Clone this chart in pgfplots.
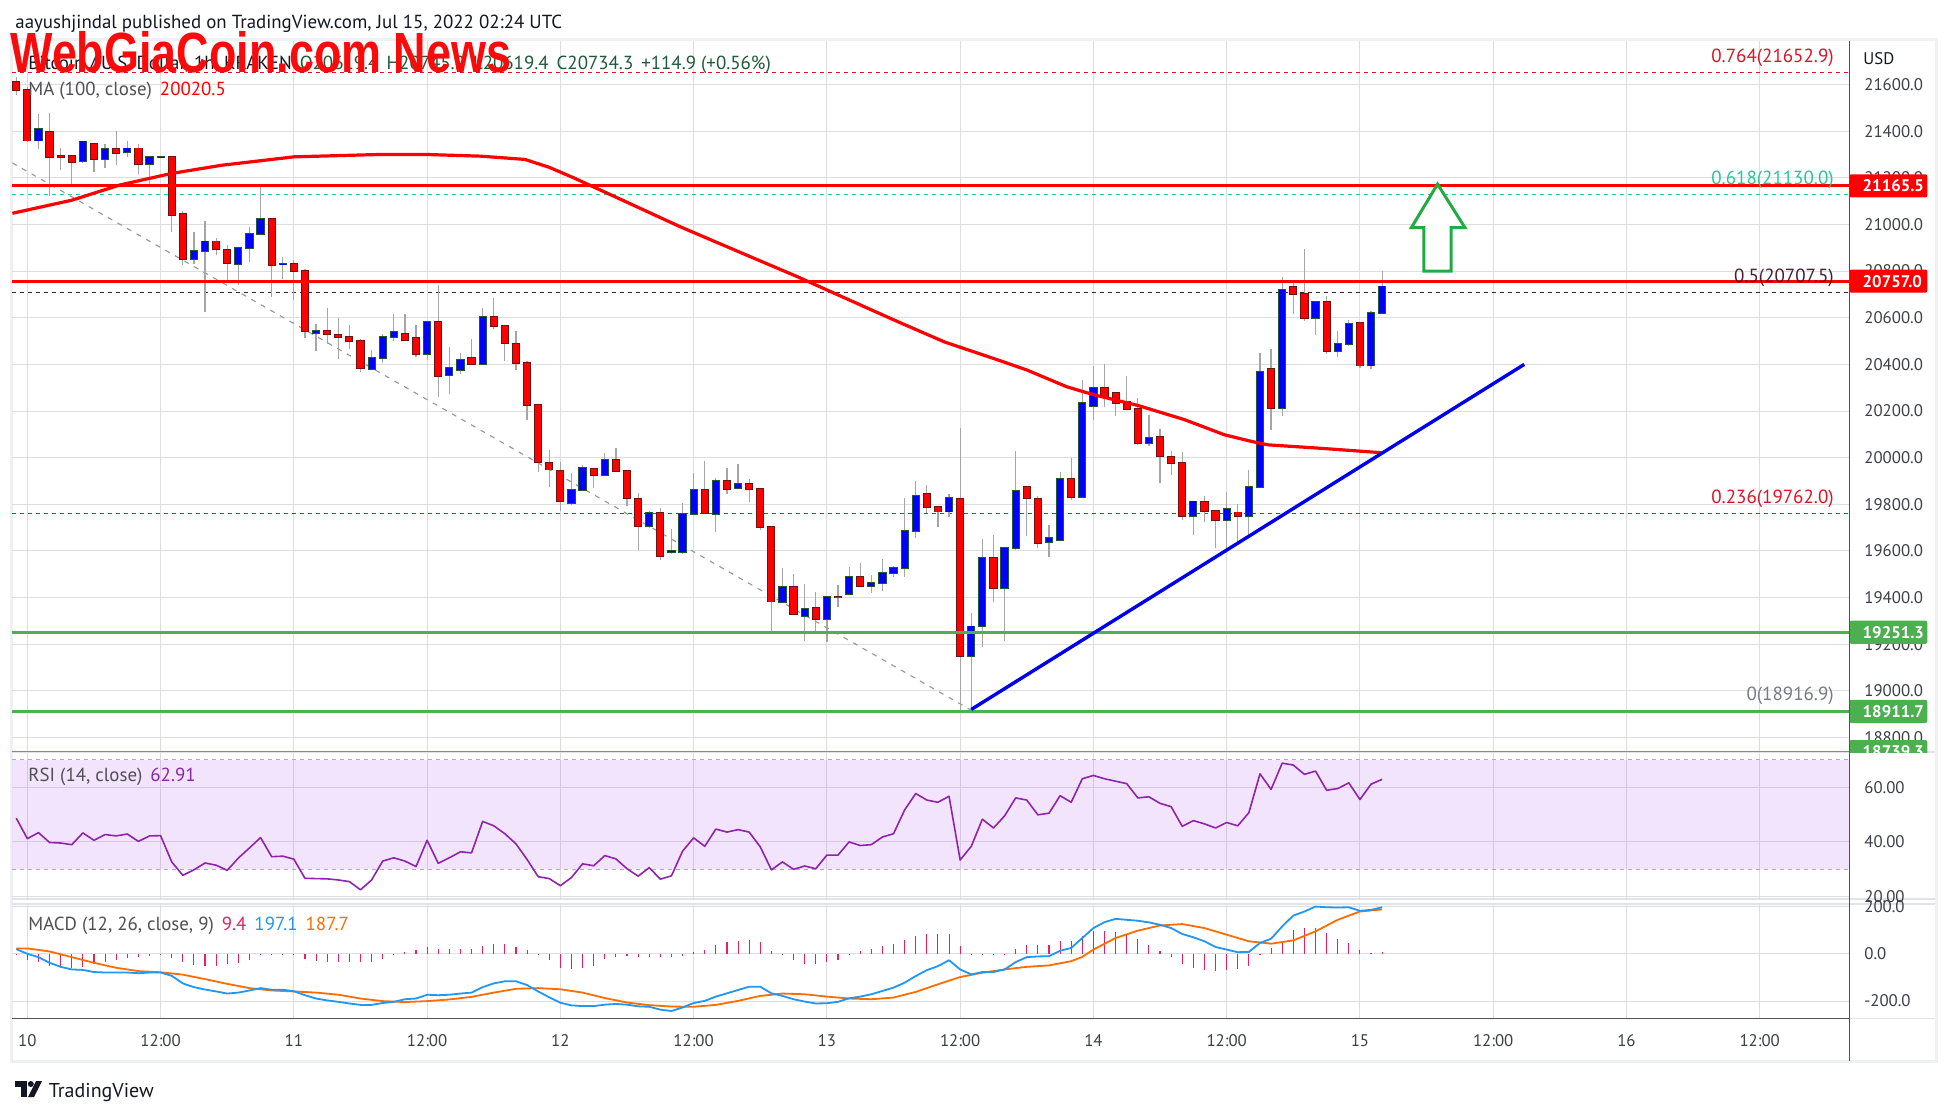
\documentclass[border=0pt]{standalone}
\usepackage{fontspec}
\setmainfont{PT Sans}
\newfontfamily\wmfont{Liberation Sans}
\usepackage{graphicx}
\usepackage{pgfplots}
\usepackage{pgfplotstable}
\pgfplotsset{compat=1.18}

\definecolor{tvgrid}{RGB}{222,222,222}
\definecolor{tvtext}{RGB}{60,63,72}
\definecolor{tvdark}{RGB}{19,23,34}
\definecolor{legray}{RGB}{80,80,84}
\definecolor{upfill}{RGB}{0,0,255}
\definecolor{upedge}{RGB}{28,88,48}
\definecolor{dnfill}{RGB}{255,0,0}
\definecolor{dnedge}{RGB}{110,18,18}
\definecolor{wickc}{RGB}{165,165,165}
\definecolor{marred}{RGB}{255,0,0}
\definecolor{lvlgreen}{RGB}{76,175,80}
\definecolor{fibred}{RGB}{220,20,40}
\definecolor{fibteal}{RGB}{38,198,150}
\definecolor{fibdark}{RGB}{70,30,55}
\definecolor{fibgray}{RGB}{120,123,134}
\definecolor{rsipurple}{RGB}{142,36,170}
\definecolor{bandc}{RGB}{160,40,240}
\definecolor{bandline}{RGB}{175,170,185}
\definecolor{macdblue}{RGB}{33,150,243}
\definecolor{macdorange}{RGB}{255,109,0}
\definecolor{histpink}{RGB}{233,30,99}
\definecolor{arrowgreen}{RGB}{34,170,68}
\definecolor{trendblue}{RGB}{0,0,235}
\definecolor{ohlc}{RGB}{30,90,55}
\definecolor{sepgray}{RGB}{225,227,232}
\definecolor{axdark}{RGB}{80,83,94}
\definecolor{framegray}{RGB}{238,240,244}
\definecolor{dashgray}{RGB}{150,150,150}

\newcommand\lblfont{\fontsize{8.4}{10}\selectfont}
\newcommand\fibfont{\fontsize{9.5}{11}\selectfont}
\newcommand\txtfont{\fontsize{9.45}{11}\selectfont}
\newcommand\ptag[2]{%
  \fill[#2, rounded corners=1pt] ([yshift=-5.8pt]axis cs:164.07,#1) rectangle ([xshift=39pt,yshift=5.8pt]axis cs:164.07,#1);
  \node[anchor=west, inner sep=0pt, text=white, font=\lblfont\bfseries] at ([xshift=6.5pt]axis cs:164.07,#1) {#1};}

% ---------- candles (hour offset from Jul 10 00:00) ----------
\pgfplotstableread{
t op hi lo cl
1 21360 21473 21323 21411
5 21272 21360 21265 21356
7 21282 21347 21243 21322
9 21309 21359 21288 21326
11 21258 21292 21169 21290
12 21290 21294 21286 21291
15 20852 20967 20832 20885
16 20886 21017 20624 20927
19 20831 20900 20741 20898
20 20899 20991 20838 20959
21 20960 21165 20958 21023
23 20829 20860 20768 20831
26 20534 20574 20457 20544
31 20381 20463 20375 20429
32 20429 20531 20404 20519
33 20519 20614 20500 20540
36 20446 20583 20420 20583
38 20356 20474 20271 20386
39 20377 20450 20360 20419
41 20403 20643 20400 20604
49 19806 19933 19795 19861
50 19862 19967 19855 19957
52 19924 20019 19920 19990
56 19707 19773 19700 19763
58 19596 19694 19586 19598
59 19595 19806 19586 19759
60 19759 19935 19755 19862
62 19759 19914 19680 19899
64 19871 19971 19865 19888
68 19380 19528 19375 19444
70 19322 19459 19215 19350
72 19307 19405 19209 19401
74 19414 19533 19410 19490
76 19451 19497 19421 19461
77 19461 19564 19429 19504
78 19504 19536 19490 19526
79 19526 19827 19490 19687
80 19687 19900 19657 19834
83 19769 19843 19744 19826
85 19150 19333 18921 19276
86 19276 19651 19186 19569
88 19439 19615 19214 19611
89 19611 20030 19605 19856
92 19637 19711 19573 19654
93 19647 19940 19645 19907
95 19830 20333 19825 20233
96 20223 20392 20160 20299
101 20063 20184 20048 20084
105 19748 19812 19669 19812
108 19731 19852 19590 19779
110 19748 19948 19662 19874
111 19874 20449 19870 20366
113 20213 20776 20177 20718
116 20600 20668 20524 20668
118 20458 20544 20432 20488
119 20488 20590 20480 20574
121 20395 20630 20380 20621
122 20621 20800 20615 20734
}\upc

\pgfplotstableread{
t op hi lo cl
-1 21611 21632 21554 21578
0 21578 21590 21355 21360
2 21396 21478 21124 21290
3 21293 21330 21233 21290
4 21292 21295 21160 21269
6 21347 21350 21226 21282
8 21322 21400 21255 21307
10 21326 21344 21216 21258
13 21290 21292 20966 21040
14 21044 21056 20828 20852
17 20927 20942 20868 20895
18 20890 20910 20761 20835
22 21023 21025 20688 20826
24 20831 20846 20678 20801
25 20801 20810 20514 20544
27 20544 20643 20489 20530
28 20527 20597 20424 20517
29 20516 20571 20464 20500
30 20501 20510 20367 20386
34 20531 20614 20500 20506
35 20514 20571 20431 20446
37 20583 20740 20260 20351
40 20426 20510 20400 20403
42 20604 20686 20550 20566
43 20566 20570 20414 20493
44 20489 20543 20376 20407
45 20407 20415 20161 20227
46 20227 20230 19940 19983
47 19979 20031 19874 19949
48 19944 19983 19770 19815
51 19953 19955 19871 19927
53 19990 20040 19940 19944
54 19944 19946 19792 19828
55 19823 19849 19602 19707
57 19763 19785 19562 19578
61 19862 19984 19760 19763
63 19899 19957 19842 19866
65 19888 19907 19809 19866
66 19866 19868 19688 19701
67 19701 19703 19253 19383
69 19444 19502 19325 19329
71 19354 19424 19243 19307
73 19401 19452 19361 19400
75 19487 19550 19450 19451
81 19843 19883 19761 19787
82 19787 19790 19704 19769
84 19821 20129 18917 19150
87 19569 19669 19379 19439
90 19873 19875 19664 19826
91 19821 19836 19614 19633
94 19907 19997 19819 19830
97 20299 20403 20217 20266
98 20277 20280 20177 20234
99 20237 20352 20205 20209
100 20209 20256 20056 20063
102 20088 20123 19891 20005
103 20003 20030 19927 19977
104 19977 20024 19731 19748
106 19808 19834 19726 19773
107 19773 19775 19612 19731
109 19765 19801 19640 19748
112 20381 20464 20117 20213
114 20731 20761 20617 20703
115 20703 20896 20585 20600
117 20668 20693 20445 20458
120 20578 20580 20385 20395
}\dnc

\pgfplotstableread{
h p
-1.347 21048
4 21104
8.3 21169
13 21219
17.5 21254
24 21290
31.6 21300
36 21300
40.8 21293
44.8 21279
47 21245
49.2 21200
53.6 21104
58.8 20990
64.7 20870
69.2 20779
73.7 20683
78.2 20587
82.6 20496
87.4 20419
90 20376
93.6 20304
96 20270
100 20224
104.2 20163
107.8 20098
110.2 20070
111.7 20055
116.2 20041
122 20021
}\ma

\pgfplotstableread{
h r
-1 48.7
0 41.2
1 43.4
2 39.8
3 39.6
4 39.0
5 43.3
6 40.6
7 42.7
8 42.2
9 42.9
10 40.2
11 42.2
12 42.3
13 32.7
14 27.8
15 29.8
16 32.3
17 31.5
18 29.6
19 34.1
20 37.8
21 41.6
22 34.6
23 34.8
24 33.7
25 26.7
26 26.6
27 26.5
28 26.1
29 25.5
30 22.5
31 26.1
32 33.0
33 34.2
34 33.0
35 31.0
36 40.6
37 32.2
38 34.2
39 36.4
40 36.0
41 47.5
42 45.9
43 43.0
44 39.3
45 33.6
46 27.3
47 26.6
48 24.0
49 27.0
50 32.0
51 31.3
52 35.0
53 33.8
54 30.2
55 27.5
56 30.6
57 26.4
58 27.6
59 36.6
60 41.5
61 38.4
62 44.7
63 43.6
64 44.5
65 43.6
66 38.2
67 29.8
68 32.7
69 30.0
70 31.2
71 30.2
72 35.2
73 35.2
74 40.0
75 38.7
76 39.0
77 41.8
78 43.0
79 51.7
80 57.7
81 55.3
82 54.5
83 56.7
84 33.4
85 38.4
86 48.3
87 45.1
88 49.5
89 56.1
90 55.3
91 49.9
92 50.5
93 56.9
94 54.5
95 63.1
96 64.3
97 63.1
98 62.2
99 61.3
100 56.1
101 56.5
102 54.1
103 52.9
104 45.7
105 47.8
106 46.6
107 45.1
108 47.1
109 45.9
110 50.7
111 64.9
112 59.2
113 68.8
114 68.1
115 64.7
116 65.9
117 58.9
118 59.5
119 61.6
120 55.5
121 61.1
122 62.9
}\rsi

\pgfplotstableread{
h m
-1 20
0 0
1 -14
2 -38
3 -55
4 -66
5 -68
6 -77
7 -79
8 -79
9 -79
10 -82
11 -79
12 -79
13 -93
14 -125
15 -141
16 -151
17 -159
18 -168
19 -164
20 -155
21 -145
22 -152
23 -152
24 -158
25 -175
26 -189
27 -197
28 -203
29 -210
30 -216
31 -216
32 -208
33 -203
34 -192
35 -189
36 -173
37 -175
38 -173
39 -168
40 -164
41 -141
42 -125
43 -116
44 -116
45 -132
46 -159
47 -184
48 -207
49 -218
50 -221
51 -221
52 -215
53 -212
54 -215
55 -222
56 -224
57 -236
58 -242
59 -227
60 -208
61 -199
62 -181
63 -167
64 -153
65 -139
66 -139
67 -167
68 -178
69 -192
70 -202
71 -210
72 -209
73 -203
74 -188
75 -181
76 -171
77 -157
78 -143
79 -122
80 -94
81 -69
82 -52
83 -27
84 -66
85 -87
86 -77
87 -77
88 -66
89 -35
90 -14
91 -11
92 -10
93 13
94 25
95 67
96 109
97 134
98 148
99 144
100 140
101 133
102 123
103 109
104 84
105 70
106 53
107 29
108 18
109 7
110 8
111 46
112 64
113 116
114 162
115 179
116 200
117 197
118 196
119 197
120 182
121 186
122 197
}\macd

\pgfplotstableread{
h s
-1 23
0 23
2 10
4 -14
6 -38
8 -59
10 -73
12 -78
14 -88
16 -107
18 -127
20 -145
22 -155
24 -159
26 -164
28 -173
30 -189
32 -200
34 -204
36 -200
38 -193
40 -182
42 -164
44 -148
46 -145
48 -150
50 -164
52 -187
54 -206
56 -217
58 -223
60 -224
62 -216
64 -199
66 -178
68 -168
70 -171
72 -181
74 -189
76 -192
78 -185
80 -161
82 -129
84 -98
86 -80
88 -66
90 -55
92 -49
94 -31
95 -13
96 18
98 67
100 98
102 120
104 126
106 109
108 81
110 53
112 43
114 57
116 95
118 144
120 179
122 188
}\sig

\pgfplotstableread{
h v
-1 -3
0 -25
1 -35
2 -50
3 -55
4 -62
5 -55
6 -45
7 -35
8 -25
9 -18
10 -13
11 -8
12 -3
13 -18
14 -35
15 -48
16 -50
17 -50
18 -42
19 -38
20 -25
21 -5
22 -3
23 -2
24 -3
25 -20
26 -30
27 -35
28 -35
29 -35
30 -35
31 -35
32 -20
33 -5
34 8
35 15
36 27
37 22
38 22
39 22
40 22
41 35
42 40
43 40
44 30
45 15
46 -5
47 -25
48 -60
49 -65
50 -60
51 -50
52 -20
53 -15
54 -10
55 -12
56 -15
57 -15
58 -15
59 -10
60 8
61 18
62 39
63 49
64 56
65 60
66 49
67 14
68 -6
69 -27
70 -42
71 -42
72 -35
73 -24
74 -3
75 14
76 21
77 35
78 43
79 60
80 77
81 85
82 85
83 85
84 32
85 1
86 -1
87 -4
88 1
89 21
90 39
91 39
92 39
93 56
94 53
95 77
96 95
97 95
98 94
99 85
100 64
101 39
102 14
103 -13
104 -45
105 -62
106 -69
107 -73
108 -69
109 -66
110 -52
111 1
112 25
113 53
114 102
115 109
116 109
117 88
118 64
119 46
120 18
121 4
122 9
}\hist

\pgfplotsset{tvpane/.style={
  scale only axis, width=918.45pt, anchor=north west,
  xmin=-1.347, xmax=164.07,
  axis line style={draw=none}, tick style={draw=none}, major tick length=0pt,
  xtick={0,12,...,156},
  grid=major, major grid style={tvgrid, line width=0.5pt},
  yticklabel pos=right,
  yticklabel style={font=\lblfont, text=tvtext, anchor=west, xshift=4pt},
  scaled y ticks=false,
  clip=false,
}}

\begin{document}
\begin{tikzpicture}
\path[use as bounding box] (0pt,0pt) rectangle (975pt,-557.5pt);
\fill[white] (0pt,0pt) rectangle (975pt,-557.5pt);
% frame and separators
\draw[framegray, line width=1.5pt] (5.5pt,-19.8pt) rectangle (968pt,-530.5pt);
\draw[sepgray, line width=1pt] (6.2pt,-376.2pt) -- (967.5pt,-376.2pt);
\draw[sepgray, line width=0.8pt] (6.2pt,-449.5pt) -- (967.5pt,-449.5pt);
\draw[sepgray, line width=0.8pt] (6.2pt,-452pt) -- (967.5pt,-452pt);

% ---------------- main price pane ----------------
\begin{axis}[tvpane, at={(6.2pt,-20.5pt)}, height=355.5pt,
  ymin=18737.6, ymax=21786.8, ytick={18800,19000,...,21600}, xticklabels={},
  yticklabel style={/pgf/number format/fixed, /pgf/number format/fixed zerofill,
    /pgf/number format/precision=1, /pgf/number format/1000 sep={},
    /pgf/number format/assume math mode=true}]
% fib levels
\addplot[fibred, line width=0.5pt, dash pattern=on 2pt off 2pt] coordinates {(-1.347,21652.9) (164.07,21652.9)};
\addplot[fibteal, line width=0.5pt, dash pattern=on 2pt off 2pt] coordinates {(-1.347,21130) (164.07,21130)};
\addplot[fibdark, line width=0.5pt, dash pattern=on 2pt off 2pt] coordinates {(-1.347,20707.5) (164.07,20707.5)};
\addplot[fibred, line width=0.5pt, dash pattern=on 2pt off 2pt] coordinates {(-1.347,19762) (164.07,19762)};
\addplot[fibgray, line width=0.5pt, dash pattern=on 2pt off 2pt] coordinates {(-1.347,18916.9) (164.07,18916.9)};
\addplot[dashgray, line width=0.55pt, dash pattern=on 2.5pt off 3pt] coordinates {(-1.347,21264) (85,18917)};
% wicks
\addplot[wickc, line width=0.6pt, quiver={u=0,v=\thisrow{hi}-\thisrow{lo}}] table[x=t,y=lo] {\upc};
\addplot[wickc, line width=0.6pt, quiver={u=0,v=\thisrow{hi}-\thisrow{lo}}] table[x=t,y=lo] {\dnc};
% bodies
\addplot[upedge, line width=4.1pt, quiver={u=0,v=\thisrow{cl}-\thisrow{op}+8}] table[x=t,y expr=\thisrow{op}-4] {\upc};
\addplot[upfill, line width=3.1pt, quiver={u=0,v=\thisrow{cl}-\thisrow{op}}] table[x=t,y=op] {\upc};
\addplot[dnedge, line width=4.1pt, quiver={u=0,v=\thisrow{op}-\thisrow{cl}+8}] table[x=t,y expr=\thisrow{cl}-4] {\dnc};
\addplot[dnfill, line width=3.1pt, quiver={u=0,v=\thisrow{op}-\thisrow{cl}}] table[x=t,y=cl] {\dnc};
% MA 100
\addplot[marred, line width=1.6pt, line join=round] table[x=h,y=p] {\ma};
% horizontal levels
\addplot[marred, line width=1.5pt] coordinates {(-1.347,21165.5) (164.07,21165.5)};
\addplot[marred, line width=1.5pt] coordinates {(-1.347,20757) (164.07,20757)};
\addplot[lvlgreen, line width=1.3pt] coordinates {(-1.347,19251.3) (164.07,19251.3)};
\addplot[lvlgreen, line width=1.3pt] coordinates {(-1.347,18911.7) (164.07,18911.7)};
\addplot[lvlgreen, line width=0.6pt] coordinates {(-1.347,18739.3) (164.07,18739.3)};
% trend line
\addplot[trendblue, line width=1.7pt] coordinates {(85,18920) (134.8,20400)};
% arrow
\addplot[arrowgreen, line width=1.5pt, fill=white, line join=miter] coordinates {(126.99,21173) (129.45,20987) (128.22,20987) (128.22,20800) (125.76,20800) (125.76,20987) (124.64,20987) (126.99,21173) (129.45,20987)};
% fib labels
\node[anchor=base east, inner sep=0pt, font=\fibfont, text=fibred] at ([yshift=5pt]axis cs:162.7,21652.9) {0.764(21652.9)};
\node[anchor=base east, inner sep=0pt, font=\fibfont, text=fibteal] at ([yshift=5pt]axis cs:162.7,21130) {0.618(21130.0)};
\node[anchor=base east, inner sep=0pt, font=\fibfont, text=fibdark] at ([yshift=5pt]axis cs:162.7,20707.5) {0.5(20707.5)};
\node[anchor=base east, inner sep=0pt, font=\fibfont, text=fibred] at ([yshift=5pt]axis cs:162.7,19762) {0.236(19762.0)};
\node[anchor=base east, inner sep=0pt, font=\fibfont, text=fibgray] at ([yshift=5pt]axis cs:162.7,18916.9) {0(18916.9)};
% price tags
\ptag{21165.5}{marred}
\ptag{20757.0}{marred}
\ptag{19251.3}{lvlgreen}
\ptag{18911.7}{lvlgreen}
\begin{scope}
\clip (axis cs:164.07,18737.6) rectangle ([xshift=45pt]axis cs:164.07,19000);
\ptag{18739.3}{lvlgreen}
\end{scope}
\end{axis}

% ---------------- RSI pane ----------------
\begin{axis}[tvpane, at={(6.2pt,-376pt)}, height=74pt,
  ymin=18.77, ymax=72.87, ytick={20,40,60}, xticklabels={},
  yticklabel style={/pgf/number format/fixed, /pgf/number format/fixed zerofill,
    /pgf/number format/precision=2, /pgf/number format/assume math mode=true}]
\addplot[draw=none, fill=bandc, fill opacity=0.12] coordinates {(-1.347,30) (164.07,30) (164.07,70) (-1.347,70) (-1.347,30)};
\addplot[bandline, line width=0.5pt, dash pattern=on 2pt off 2pt] coordinates {(-1.347,70) (164.07,70)};
\addplot[bandline, line width=0.5pt, dash pattern=on 2pt off 2pt] coordinates {(-1.347,30) (164.07,30)};
\addplot[rsipurple, line width=0.8pt, line join=round] table[x=h,y=r] {\rsi};
\end{axis}

% ---------------- MACD pane ----------------
\begin{axis}[tvpane, at={(6.2pt,-451.5pt)}, height=57.8pt,
  ymin=-274, ymax=215, ytick={-200,0,200},
  xticklabels={10,12:00,11,12:00,12,12:00,13,12:00,14,12:00,15,12:00,16,12:00},
  xticklabel style={font=\lblfont, text=tvtext, anchor=base, yshift=-13.7pt},
  yticklabel style={/pgf/number format/fixed, /pgf/number format/fixed zerofill,
    /pgf/number format/precision=1, /pgf/number format/assume math mode=true}]
\addplot[ycomb, histpink, line width=0.55pt] table[x=h,y=v] {\hist};
\addplot[macdorange, line width=0.9pt, line join=round] table[x=h,y=s] {\sig};
\addplot[macdblue, line width=0.9pt, line join=round] table[x=h,y=m] {\macd};
\end{axis}

% axis borders
\draw[axdark, line width=0.7pt] (6.2pt,-509.3pt) -- (924.65pt,-509.3pt);
\draw[sepgray, line width=0.7pt] (924.65pt,-509.3pt) -- (967.5pt,-509.3pt);
\draw[axdark, line width=0.5pt] (924.65pt,-20.5pt) -- (924.65pt,-530.5pt);

% texts
\node[anchor=base west, inner sep=0pt, font=\txtfont, text=tvdark] at (7.5pt,-14.3pt) {aayushjindal published on TradingView.com, Jul 15, 2022 02:24 UTC};
\node[anchor=base west, inner sep=0pt, font=\txtfont] at (14pt,-34.8pt) {\textcolor{tvdark}{Bitcoin / U.S. Dollar, 1h, KRAKEN}\hspace{4pt}\textcolor{ohlc}{O20619.4\hspace{4pt}H20745.2\hspace{4pt}L20619.4\hspace{4pt}C20734.3\hspace{4pt}+114.9 (+0.56\%)}};
\node[anchor=base west, inner sep=0pt, font=\txtfont] at (14pt,-47.9pt) {\textcolor{legray}{MA (100, close)}\hspace{4pt}\textcolor{marred}{20020.5}};
\node[anchor=base west, inner sep=0pt, font=\txtfont] at (14pt,-390.5pt) {\textcolor{legray}{RSI (14, close)}\hspace{4pt}\textcolor{rsipurple}{62.91}};
\node[anchor=base west, inner sep=0pt, font=\txtfont] at (14pt,-465pt) {\textcolor{legray}{MACD (12, 26, close, 9)}\hspace{4pt}\textcolor{histpink}{9.4}\hspace{4pt}\textcolor{macdblue}{197.1}\hspace{4pt}\textcolor{macdorange}{187.7}};
\node[anchor=base west, inner sep=0pt, font=\lblfont, text=tvdark] at (931.5pt,-32pt) {USD};
% footer logo
\fill[tvdark] (7.5pt,-540.5pt) rectangle (13.5pt,-543.5pt);
\fill[tvdark] (10.5pt,-540.5pt) rectangle (13.5pt,-548.5pt);
\fill[tvdark] (15.4pt,-542pt) circle (1.5pt);
\fill[tvdark] (14pt,-548.5pt) -- (17pt,-548.5pt) -- (21pt,-540.5pt) -- (18pt,-540.5pt) -- cycle;
\node[anchor=base west, inner sep=0pt, font=\fontsize{10}{12}\selectfont, text=tvdark] at (24.25pt,-548.5pt) {TradingView};
% watermark
\node[anchor=base west, inner sep=0pt, text={rgb,255:red,250;green,10;blue,10}] at (5pt,-36pt) {\scalebox{0.832}[1.05]{\wmfont\bfseries\fontsize{27}{30}\selectfont WebGiaCoin.com News}};
\end{tikzpicture}
\end{document}
